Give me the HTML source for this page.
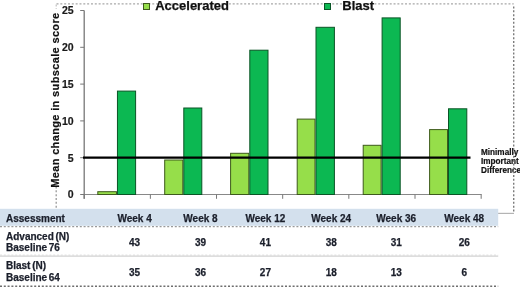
<!DOCTYPE html>
<html><head><meta charset="utf-8"><style>
html,body{margin:0;padding:0;background:#fff;width:520px;height:287px;overflow:hidden}
svg{display:block;will-change:transform;font-family:"Liberation Sans",sans-serif;font-weight:bold}
.tk{font-size:10.5px;fill:#1a1a1a;stroke:#1a1a1a;stroke-width:0.2px}
.tb{font-size:10px;fill:#1b1f2b;stroke:#1b1f2b;stroke-width:0.25px}
.ws{word-spacing:-1.1px}
.lg{font-size:13px;fill:#111;stroke:#111;stroke-width:0.25px}
.mid{font-size:8.2px;fill:#111;stroke:#111;stroke-width:0.2px}
.yl{font-size:11px;fill:#111;stroke:#111;stroke-width:0.2px}
</style></head><body>
<svg width="520" height="287" viewBox="0 0 520 287">
<line x1="56.5" y1="3.9" x2="513.7" y2="3.9" stroke="#a8a8a8" stroke-width="1.4" stroke-dasharray="2 1.83"/>
<line x1="56.2" y1="186.5" x2="56.2" y2="209" stroke="#9a9a9a" stroke-width="1.3" stroke-dasharray="2 1.83"/>
<line x1="56.2" y1="4.5" x2="56.2" y2="9" stroke="#c0c0c0" stroke-width="1.2" stroke-dasharray="2 1.83"/>
<line x1="498" y1="213.4" x2="514" y2="213.4" stroke="#b4b4b4" stroke-width="1.2"/>
<line x1="84.2" y1="194.5" x2="481.7" y2="194.5" stroke="#888" stroke-width="1"/>
<line x1="84.20" y1="194.5" x2="84.20" y2="198.8" stroke="#777" stroke-width="1"/>
<line x1="150.36" y1="194.5" x2="150.36" y2="198.8" stroke="#777" stroke-width="1"/>
<line x1="216.52" y1="194.5" x2="216.52" y2="198.8" stroke="#777" stroke-width="1"/>
<line x1="282.68" y1="194.5" x2="282.68" y2="198.8" stroke="#777" stroke-width="1"/>
<line x1="348.84" y1="194.5" x2="348.84" y2="198.8" stroke="#777" stroke-width="1"/>
<line x1="415.00" y1="194.5" x2="415.00" y2="198.8" stroke="#777" stroke-width="1"/>
<line x1="481.16" y1="194.5" x2="481.16" y2="198.8" stroke="#777" stroke-width="1"/>
<rect x="97.80" y="191.70" width="18.65" height="2.80" fill="#96DE4A" stroke="#3E5A1C" stroke-width="1"/>
<rect x="117.45" y="91.10" width="18.15" height="103.40" fill="#0CB852" stroke="#0A5526" stroke-width="1"/>
<rect x="164.70" y="160.00" width="18.10" height="34.50" fill="#96DE4A" stroke="#3E5A1C" stroke-width="1"/>
<rect x="183.80" y="108.00" width="18.00" height="86.50" fill="#0CB852" stroke="#0A5526" stroke-width="1"/>
<rect x="230.60" y="153.30" width="18.20" height="41.20" fill="#96DE4A" stroke="#3E5A1C" stroke-width="1"/>
<rect x="249.80" y="50.20" width="18.20" height="144.30" fill="#0CB852" stroke="#0A5526" stroke-width="1"/>
<rect x="297.20" y="119.10" width="17.80" height="75.40" fill="#96DE4A" stroke="#3E5A1C" stroke-width="1"/>
<rect x="316.00" y="27.30" width="18.40" height="167.20" fill="#0CB852" stroke="#0A5526" stroke-width="1"/>
<rect x="363.20" y="145.30" width="17.90" height="49.20" fill="#96DE4A" stroke="#3E5A1C" stroke-width="1"/>
<rect x="382.10" y="17.90" width="18.10" height="176.60" fill="#0CB852" stroke="#0A5526" stroke-width="1"/>
<rect x="429.60" y="129.60" width="17.90" height="64.90" fill="#96DE4A" stroke="#3E5A1C" stroke-width="1"/>
<rect x="448.50" y="108.80" width="18.30" height="85.70" fill="#0CB852" stroke="#0A5526" stroke-width="1"/>
<line x1="84.2" y1="10.5" x2="84.2" y2="198.8" stroke="#777" stroke-width="1.3"/>
<line x1="80.2" y1="194.50" x2="84.2" y2="194.50" stroke="#777" stroke-width="1"/>
<text x="73.7" y="198.40" text-anchor="end" class="tk">0</text>
<line x1="80.2" y1="157.70" x2="84.2" y2="157.70" stroke="#777" stroke-width="1"/>
<text x="73.7" y="161.60" text-anchor="end" class="tk">5</text>
<line x1="80.2" y1="120.90" x2="84.2" y2="120.90" stroke="#777" stroke-width="1"/>
<text x="73.7" y="124.80" text-anchor="end" class="tk">10</text>
<line x1="80.2" y1="84.10" x2="84.2" y2="84.10" stroke="#777" stroke-width="1"/>
<text x="73.7" y="88.00" text-anchor="end" class="tk">15</text>
<line x1="80.2" y1="47.30" x2="84.2" y2="47.30" stroke="#777" stroke-width="1"/>
<text x="73.7" y="51.20" text-anchor="end" class="tk">20</text>
<line x1="80.2" y1="10.50" x2="84.2" y2="10.50" stroke="#777" stroke-width="1"/>
<text x="73.7" y="14.40" text-anchor="end" class="tk">25</text>
<line x1="83" y1="157.6" x2="470.5" y2="157.6" stroke="#000" stroke-width="2.4"/>
<rect x="143.5" y="3.5" width="6" height="6" fill="#96DE4A" stroke="#3E5A1C" stroke-width="1"/>
<text x="155.2" y="9.6" class="lg">Accelerated</text>
<rect x="324.5" y="3.5" width="6" height="6" fill="#0CB852" stroke="#0A5526" stroke-width="1"/>
<text x="342.3" y="9.7" class="lg">Blast</text>
<text class="mid" x="481" y="155.1">Minimally</text>
<text class="mid" x="481" y="164.2">Important</text>
<text class="mid" x="481" y="173.4">Difference</text>
<line x1="513.7" y1="6.5" x2="513.7" y2="213" stroke="#7c7c7c" stroke-width="1.4" stroke-dasharray="2 1.83"/>
<text class="yl" transform="translate(59.3,187.8) rotate(-90)" textLength="175">Mean change in subscale score</text>
<rect x="0" y="208.8" width="498.2" height="17" fill="#D3E0ED"/>
<line x1="0" y1="226.6" x2="498.2" y2="226.6" stroke="#9a9a9a" stroke-width="1.2" stroke-dasharray="2 1.8"/>
<line x1="0" y1="255" x2="498.2" y2="255" stroke="#e2e2e2" stroke-width="1" stroke-dasharray="2 1.8"/>
<line x1="0" y1="256.1" x2="498.2" y2="256.1" stroke="#d2d2d2" stroke-width="1.2"/>
<line x1="0" y1="286.3" x2="498.2" y2="286.3" stroke="#6e6e6e" stroke-width="1.5" stroke-dasharray="2 1.8"/>
<text x="6" y="221.6" class="tb">Assessment</text>
<text x="6" y="239.7" class="tb ws">Advanced (N)</text>
<text x="6" y="250.8" class="tb ws">Baseline 76</text>
<text x="6" y="268.8" class="tb ws">Blast (N)</text>
<text x="6" y="281.1" class="tb ws">Baseline 64</text>
<text x="134.6" y="221.6" class="tb" text-anchor="middle">Week 4</text>
<text x="134.6" y="246.1" class="tb" text-anchor="middle">43</text>
<text x="134.6" y="276.0" class="tb" text-anchor="middle">35</text>
<text x="200.5" y="221.6" class="tb" text-anchor="middle">Week 8</text>
<text x="200.5" y="246.1" class="tb" text-anchor="middle">39</text>
<text x="200.5" y="276.0" class="tb" text-anchor="middle">36</text>
<text x="265.4" y="221.6" class="tb" text-anchor="middle">Week 12</text>
<text x="265.4" y="246.1" class="tb" text-anchor="middle">41</text>
<text x="265.4" y="276.0" class="tb" text-anchor="middle">27</text>
<text x="331.2" y="221.6" class="tb" text-anchor="middle">Week 24</text>
<text x="331.2" y="246.1" class="tb" text-anchor="middle">38</text>
<text x="331.2" y="276.0" class="tb" text-anchor="middle">18</text>
<text x="396.2" y="221.6" class="tb" text-anchor="middle">Week 36</text>
<text x="396.2" y="246.1" class="tb" text-anchor="middle">31</text>
<text x="396.2" y="276.0" class="tb" text-anchor="middle">13</text>
<text x="464.2" y="221.6" class="tb" text-anchor="middle">Week 48</text>
<text x="464.2" y="246.1" class="tb" text-anchor="middle">26</text>
<text x="464.2" y="276.0" class="tb" text-anchor="middle">6</text>
</svg>
</body></html>
